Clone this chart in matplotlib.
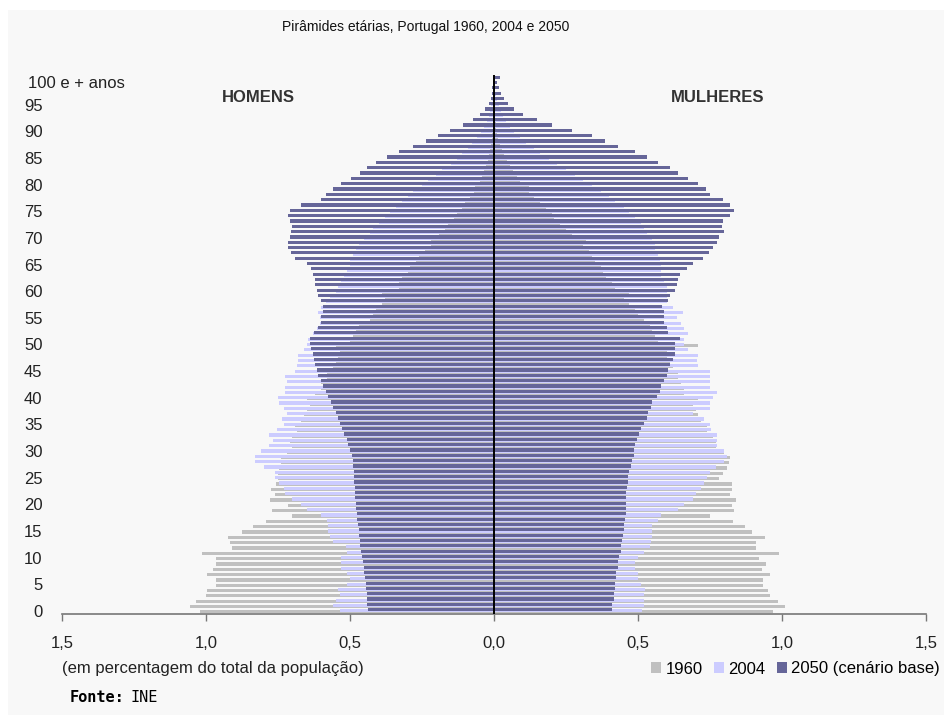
import numpy as np
import matplotlib
matplotlib.use("Agg")
import matplotlib.pyplot as plt
from matplotlib.patches import Patch, Rectangle

plt.rcParams['font.family'] = ['Liberation Sans', 'DejaVu Sans']

# idades 0..100 (100 = "100 e + anos")
idades = np.arange(101)

# percentagem do total da populacao - HOMENS
h1960 = [1.02, 1.055, 1.035, 1.0, 0.995, 0.965, 0.965, 0.995, 0.975, 0.965,
         0.965, 1.015, 0.91, 0.917, 0.923, 0.876, 0.836, 0.79, 0.7, 0.77,
         0.715, 0.778, 0.76, 0.775, 0.757, 0.75, 0.75, 0.745, 0.74, 0.74,
         0.72, 0.7, 0.71, 0.7, 0.685, 0.69, 0.67, 0.66, 0.65, 0.64,
         0.65, 0.62, 0.6, 0.6, 0.58, 0.58, 0.56, 0.55, 0.54, 0.535,
         0.55, 0.5, 0.49, 0.48, 0.47, 0.43, 0.42, 0.41, 0.39, 0.38,
         0.39, 0.33, 0.33, 0.32, 0.3, 0.29, 0.27, 0.26, 0.24, 0.22,
         0.22, 0.19, 0.17, 0.16, 0.14, 0.13, 0.11, 0.1, 0.085, 0.07,
         0.065, 0.05, 0.042, 0.035, 0.028, 0.022, 0.017, 0.013, 0.01, 0.007,
         0.006, 0.004, 0.003, 0.002, 0.0015, 0.001, 0.001, 0.001, 0.001, 0.001,
         0.001]
h2004 = [0.535, 0.56, 0.55, 0.535, 0.54, 0.51, 0.5, 0.51, 0.53, 0.53,
         0.53, 0.51, 0.515, 0.56, 0.57, 0.575, 0.575, 0.58, 0.6, 0.65,
         0.67, 0.7, 0.725, 0.73, 0.745, 0.76, 0.76, 0.8, 0.83, 0.83,
         0.81, 0.78, 0.767, 0.78, 0.755, 0.73, 0.735, 0.72, 0.73, 0.745,
         0.75, 0.725, 0.725, 0.72, 0.725, 0.69, 0.685, 0.68, 0.68, 0.66,
         0.65, 0.645, 0.63, 0.615, 0.605, 0.605, 0.61, 0.6, 0.585, 0.57,
         0.55, 0.54, 0.53, 0.52, 0.51, 0.5, 0.5, 0.49, 0.48, 0.47,
         0.45, 0.43, 0.42, 0.4, 0.38, 0.36, 0.34, 0.32, 0.3, 0.28,
         0.25, 0.23, 0.2, 0.18, 0.15, 0.13, 0.11, 0.09, 0.075, 0.06,
         0.045, 0.035, 0.026, 0.019, 0.013, 0.009, 0.006, 0.004, 0.003, 0.002,
         0.003]
h2050 = [0.437, 0.44, 0.44, 0.442, 0.443, 0.444, 0.447, 0.45, 0.453, 0.456,
         0.46, 0.462, 0.464, 0.466, 0.468, 0.47, 0.472, 0.474, 0.476, 0.478,
         0.48, 0.481, 0.482, 0.484, 0.485, 0.486, 0.487, 0.488, 0.49, 0.493,
         0.5, 0.506, 0.512, 0.52, 0.528, 0.535, 0.543, 0.55, 0.558, 0.567,
         0.576, 0.585, 0.593, 0.6, 0.61, 0.615, 0.62, 0.625, 0.63, 0.635,
         0.64, 0.64, 0.625, 0.61, 0.6, 0.6, 0.595, 0.595, 0.6, 0.612,
         0.615, 0.62, 0.62, 0.63, 0.635, 0.65, 0.69, 0.705, 0.715, 0.715,
         0.71, 0.705, 0.7, 0.71, 0.715, 0.71, 0.67, 0.6, 0.585, 0.56,
         0.53, 0.495, 0.465, 0.44, 0.41, 0.37, 0.33, 0.28, 0.235, 0.195,
         0.153, 0.107, 0.072, 0.05, 0.03, 0.018, 0.012, 0.008, 0.006, 0.004,
         0.004]

# MULHERES
m1960 = [0.97, 1.01, 0.985, 0.96, 0.95, 0.935, 0.935, 0.96, 0.93, 0.945,
         0.92, 0.99, 0.91, 0.91, 0.94, 0.895, 0.87, 0.83, 0.75, 0.835,
         0.825, 0.84, 0.82, 0.825, 0.825, 0.78, 0.795, 0.81, 0.815, 0.82,
         0.8, 0.77, 0.77, 0.76, 0.74, 0.74, 0.72, 0.71, 0.7, 0.69,
         0.71, 0.66, 0.66, 0.65, 0.64, 0.64, 0.62, 0.61, 0.6, 0.6,
         0.71, 0.57, 0.56, 0.55, 0.54, 0.52, 0.5, 0.49, 0.47, 0.45,
         0.47, 0.42, 0.41, 0.39, 0.38, 0.37, 0.35, 0.34, 0.33, 0.31,
         0.32, 0.27, 0.25, 0.23, 0.21, 0.2, 0.18, 0.16, 0.14, 0.12,
         0.12, 0.09, 0.08, 0.065, 0.055, 0.045, 0.035, 0.027, 0.02, 0.015,
         0.012, 0.008, 0.006, 0.004, 0.003, 0.002, 0.001, 0.001, 0.001, 0.001,
         0.001]
m2004 = [0.515, 0.52, 0.52, 0.52, 0.525, 0.51, 0.5, 0.5, 0.49, 0.49,
         0.5, 0.52, 0.54, 0.545, 0.55, 0.55, 0.55, 0.57, 0.58, 0.64,
         0.66, 0.69, 0.7, 0.72, 0.73, 0.74, 0.75, 0.77, 0.8, 0.81,
         0.8, 0.775, 0.775, 0.775, 0.755, 0.75, 0.73, 0.69, 0.75, 0.75,
         0.76, 0.775, 0.75, 0.75, 0.75, 0.75, 0.71, 0.705, 0.71, 0.675,
         0.66, 0.66, 0.675, 0.66, 0.65, 0.635, 0.655, 0.62, 0.6, 0.6,
         0.6, 0.6, 0.59, 0.58, 0.58, 0.58, 0.575, 0.57, 0.56, 0.56,
         0.55, 0.53, 0.52, 0.51, 0.49, 0.47, 0.45, 0.42, 0.4, 0.37,
         0.34, 0.31, 0.28, 0.25, 0.22, 0.19, 0.16, 0.14, 0.11, 0.09,
         0.07, 0.055, 0.042, 0.032, 0.024, 0.017, 0.012, 0.008, 0.005, 0.003,
         0.005]
m2050 = [0.41, 0.41, 0.415, 0.415, 0.42, 0.42, 0.425, 0.425, 0.43, 0.43,
         0.435, 0.44, 0.44, 0.445, 0.447, 0.45, 0.45, 0.455, 0.458, 0.46,
         0.46, 0.46, 0.46, 0.463, 0.466, 0.467, 0.47, 0.475, 0.48, 0.485,
         0.485, 0.49, 0.495, 0.505, 0.51, 0.52, 0.53, 0.535, 0.545, 0.55,
         0.565, 0.575, 0.58, 0.59, 0.6, 0.605, 0.61, 0.62, 0.63, 0.63,
         0.63, 0.645, 0.605, 0.6, 0.59, 0.59, 0.59, 0.585, 0.605, 0.61,
         0.63, 0.635, 0.64, 0.645, 0.67, 0.69, 0.725, 0.745, 0.76, 0.775,
         0.78, 0.8, 0.79, 0.795, 0.82, 0.835, 0.82, 0.795, 0.75, 0.735,
         0.71, 0.675, 0.64, 0.61, 0.57, 0.53, 0.49, 0.43, 0.385, 0.34,
         0.27, 0.2, 0.15, 0.1, 0.07, 0.05, 0.035, 0.025, 0.018, 0.012,
         0.02]

anos = ['1960', '2004', '2050 (cenário base)']
cores = ['#c0c0c0', '#ccccff', '#666699']
xticks = [-1.5, -1.0, -0.5, 0.0, 0.5, 1.0, 1.5]
xlabels = ['1,5', '1,0', '0,5', '0,0', '0,5', '1,0', '1,5']
yticks = list(range(0, 100, 5))

W, H = 944, 715
fig = plt.figure(figsize=(W / 100, H / 100), dpi=100, facecolor='white')
fig.patches.append(Rectangle((8 / W, 0), 1, 1 - 10 / H, transform=fig.transFigure,
                             facecolor='#f8f8f8', edgecolor='none', zorder=-10))

ax = fig.add_axes([62 / W, 101 / H, 864 / W, 539 / H])
ax.set_facecolor('none')

desloc = [-0.2, 0.0, 0.2]
for homens, mulheres, cor, d in zip([h1960, h2004, h2050], [m1960, m2004, m2050], cores, desloc):
    ax.barh(idades + d, -np.array(homens), height=0.6, color=cor, linewidth=0)
    ax.barh(idades + d, np.array(mulheres), height=0.6, color=cor, linewidth=0)

ax.axvline(0, color='black', linewidth=1.4, zorder=5)

ax.set_xlim(-1.5, 1.5)
ax.set_ylim(-0.6, 100.6)
ax.set_xticks(xticks)
ax.set_xticklabels(xlabels, fontsize=12, color='#222222')
ax.set_yticks(yticks)
ax.set_yticklabels([str(v) for v in yticks], fontsize=12, color='#222222')
ax.tick_params(axis='y', length=0, pad=14)
ax.tick_params(axis='x', length=5, width=1, color='#777777', direction='out', pad=11)
for s in ['top', 'left', 'right']:
    ax.spines[s].set_visible(False)
ax.spines['bottom'].set_color('#777777')
ax.spines['bottom'].set_linewidth(1.2)

fig.text(28 / W, 1 - 83 / H, '100 e + anos', fontsize=12, color='#222222', va='center', ha='left')
fig.text(426 / W, 1 - 27 / H, 'Pirâmides etárias, Portugal 1960, 2004 e 2050',
         fontsize=10, color='#111111', ha='center', va='center')
fig.text(258 / W, 1 - 98 / H, 'HOMENS', fontsize=12, fontweight='bold', color='#333333',
         ha='center', va='center')
fig.text(718 / W, 1 - 98 / H, 'MULHERES', fontsize=12, fontweight='bold', color='#333333',
         ha='center', va='center')
fig.text(62 / W, 1 - 669 / H, '(em percentagem do total da população)', fontsize=12,
         color='#222222', ha='left', va='center')
fig.text(70 / W, 1 - 698 / H, 'Fonte:', fontsize=11, fontweight='bold',
         family='DejaVu Sans Mono', color='black', ha='left', va='center')
fig.text(130 / W, 1 - 698 / H, 'INE', fontsize=11, family='DejaVu Sans Mono',
         color='black', ha='left', va='center')

handles = [Patch(facecolor=c, edgecolor='none') for c in cores]
fig.legend(handles, anos, loc='center right', bbox_to_anchor=(940 / W, 1 - 669 / H),
           ncol=3, frameon=False, fontsize=12, handlelength=0.6, handleheight=0.6,
           handletextpad=0.25, columnspacing=0.7, borderaxespad=0, borderpad=0)

fig.savefig('out.png', dpi=100, facecolor=fig.get_facecolor())
